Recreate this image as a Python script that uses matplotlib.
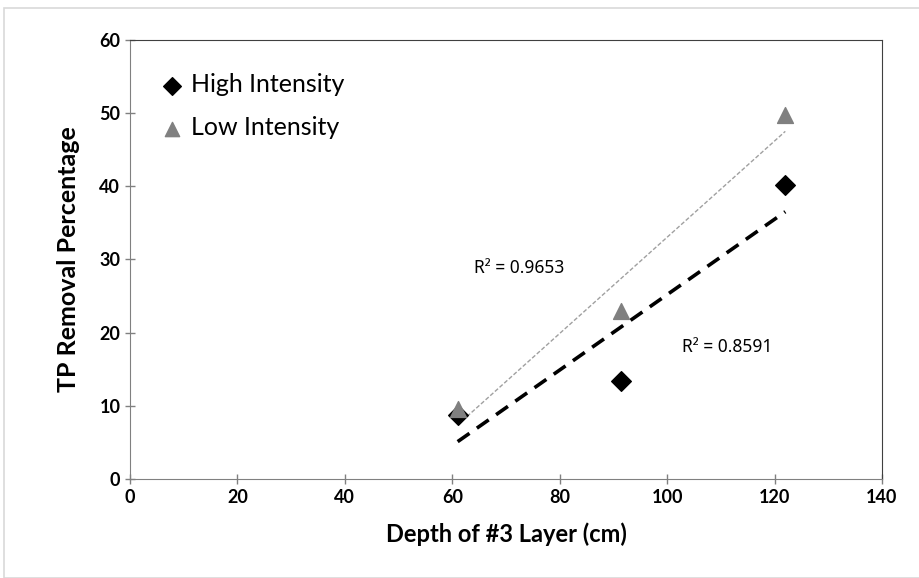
import numpy as np
import matplotlib.pyplot as plt
from matplotlib.patches import Rectangle

depth = [61, 91.4, 122]
high_intensity = [8.8, 13.4, 40.2]
low_intensity = [9.6, 23.0, 49.7]
r2_high_label = "R² = 0.8591"
r2_low_label = "R² = 0.9653"

plt.rcParams['font.family'] = ['Lato', 'DejaVu Sans']

fig = plt.figure(figsize=(9.19, 5.78), dpi=100)
fig.patches.append(Rectangle((0.004, 0.0), 1.2, 0.986, transform=fig.transFigure,
                             fill=False, edgecolor='#d9d9d9', linewidth=1.2))
ax = fig.add_axes([0.1415, 0.1713, 0.8182, 0.7595])

ax.scatter(depth, high_intensity, marker='D', s=100, color='black', zorder=3, label='High Intensity')
ax.scatter(depth, low_intensity, marker='^', s=130, color='#808080', zorder=3, label='Low Intensity')

xd = np.array(depth)
ph = np.polyfit(xd, high_intensity, 1)
pl = np.polyfit(xd, low_intensity, 1)
ax.plot(xd[[0, -1]], np.polyval(ph, xd[[0, -1]]), color='black', lw=2.6, ls=(0, (4, 2.5)), zorder=2)
ax.plot(xd[[0, -1]], np.polyval(pl, xd[[0, -1]]), color='#a0a0a0', lw=1.0, ls=(0, (3, 1.5)), zorder=2)

ax.text(64, 28.8, r2_low_label, fontsize=12.5, va='center', ha='left', family=['Noto Sans', 'DejaVu Sans'])
ax.text(102.8, 18.0, r2_high_label, fontsize=12.5, va='center', ha='left', family=['Noto Sans', 'DejaVu Sans'])

ax.set_xlim(0, 140)
ax.set_ylim(0, 60)
ax.set_xticks(range(0, 141, 20))
ax.set_yticks(range(0, 61, 10))
ax.tick_params(direction='inout', length=7, width=1, colors='#808080', labelcolor='black',
               labelsize=13)
for lab in ax.get_xticklabels() + ax.get_yticklabels():
    lab.set_fontweight('bold')
ax.spines['left'].set_color('#808080')
ax.spines['bottom'].set_color('#808080')
ax.spines['top'].set_color('#404040')
ax.spines['right'].set_color('#404040')

ax.set_xlabel('Depth of #3 Layer (cm)', fontsize=17, fontweight='bold', labelpad=12)
ax.set_ylabel('TP Removal Percentage', fontsize=18, fontweight='bold', labelpad=14)

ax.legend(loc='upper left', bbox_to_anchor=(0.006, 0.975), frameon=False, fontsize=18,
          handletextpad=0.15, labelspacing=0.8, markerscale=0.9, handlelength=1.2)

fig.savefig('out.png', dpi=100)
